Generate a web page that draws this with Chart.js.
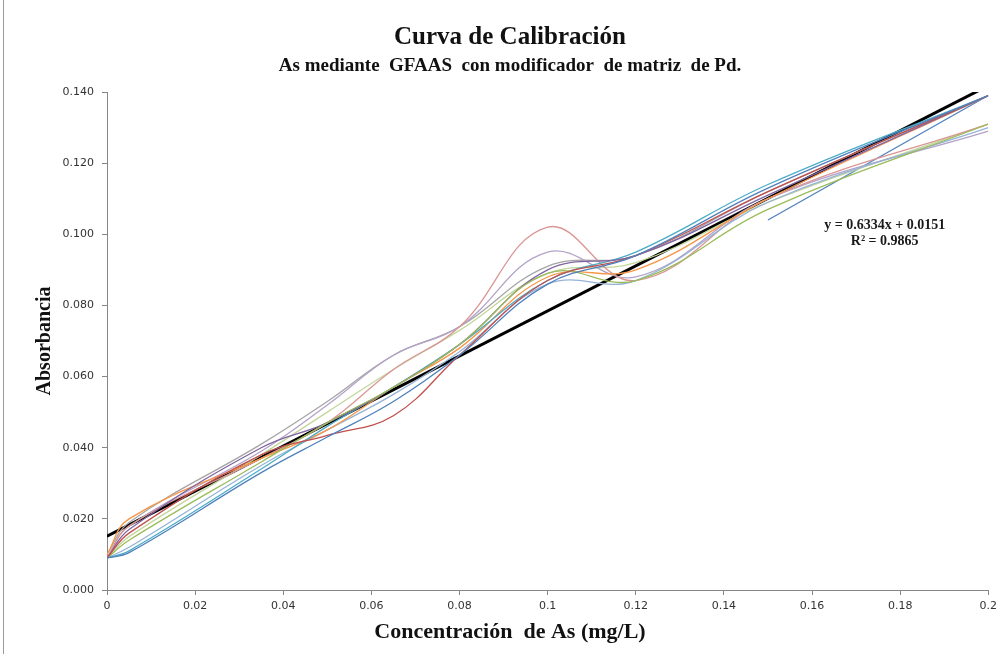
<!DOCTYPE html>
<html>
<head>
<meta charset="utf-8">
<script src="https://cdn.jsdelivr.net/npm/chart.js@4/dist/chart.umd.min.js"></script>
<style>
  html, body { margin: 0; padding: 0; background: #fff; }
  #wrap { width: 1002px; height: 654px; }
</style>
</head>
<body>
<div id="wrap"><canvas id="calChart" width="1002" height="654"></canvas></div>
<script>
// concentraciones (mg/L) comunes a todas las curvas
var conc = [0, 0.005, 0.035, 0.05, 0.065, 0.08, 0.1, 0.12, 0.15, 0.2];

// absorbancias de cada curva
var serie1 = [0.009, 0.0105, 0.033, 0.043, 0.053, 0.066, 0.086, 0.094, 0.113, 0.139];
var serie2 = [0.009, 0.016, 0.038, 0.0435, 0.049, 0.066, 0.087, 0.094, 0.112, 0.139];
var serie3 = [0.009, 0.014, 0.036, 0.047, 0.057, 0.069, 0.089, 0.087, 0.107, 0.131];
var serie4 = [0.009, 0.017, 0.040, 0.047, 0.057, 0.069, 0.090, 0.094, 0.111, 0.139];
var serie5 = [0.009, 0.011, 0.034, 0.046, 0.057, 0.069, 0.087, 0.095, 0.114, 0.139];
var serie6 = [0.010, 0.020, 0.037, 0.045, 0.057, 0.068, 0.088, 0.090, 0.110, 0.139];
var serie7 = [0.009, 0.012, 0.035, 0.045, 0.055, 0.067, 0.086, 0.087, 0.109, 0.130];
var serie8 = [0.009, 0.018, 0.037, 0.047, 0.062, 0.074, 0.102, 0.087, 0.110, 0.131];
var serie9 = [0.009, 0.018, 0.039, 0.052, 0.066, 0.074, 0.095, 0.088, 0.110, 0.129];
var serie10 = [0.009, 0.015, 0.038, 0.050, 0.062, 0.073, 0.089, 0.092, 0.109, 0.131];
var serie11 = [0.010, 0.019, 0.041, 0.053, 0.066, 0.074, 0.091, 0.094, 0.112, 0.139];

// tramo recto suelto
var tramoX = [0.15, 0.2];
var tramoY = [0.104, 0.139];

// linea de tendencia
var pendiente = 0.6334;
var intercepto = 0.0151;
var r2 = 0.9865;
var tendX = [0, 0.2];

var xTicks = [0, 0.02, 0.04, 0.06, 0.08, 0.1, 0.12, 0.14, 0.16, 0.18, 0.2];
var yTicks = [0, 0.02, 0.04, 0.06, 0.08, 0.1, 0.12, 0.14];

var colores = ['#4F81BD', '#C0504D', '#9BBB59', '#8064A2', '#4BACC6', '#F79646',
               '#95B3D7', '#D99694', '#B3A2C7', '#C3D69B', '#A5A5A5'];
var series = [serie1, serie2, serie3, serie4, serie5, serie6, serie7, serie8, serie9, serie10, serie11];

function puntos(xs, ys) {
    return xs.map(function (x, i) { return { x: x, y: ys[i] }; });
}

var datasets = series.map(function (s, i) {
    return {
        label: 'Serie ' + (i + 1),
        data: puntos(conc, s),
        borderColor: colores[i],
        borderWidth: 1.3,
        pointRadius: 0,
        tension: 0.4,
        fill: false
    };
});

datasets.push({
    label: 'Tramo',
    data: puntos(tramoX, tramoY),
    borderColor: '#4F81BD',
    borderWidth: 1.3,
    pointRadius: 0,
    tension: 0
});

datasets.push({
    label: 'Lineal',
    data: tendX.map(function (x) { return { x: x, y: pendiente * x + intercepto }; }),
    borderColor: '#000000',
    borderWidth: 3,
    pointRadius: 0,
    tension: 0
});

var serif = "'Liberation Serif', 'Times New Roman', serif";

// borde izquierdo, titulo del eje x y texto de la ecuacion
var extras = {
    id: 'extras',
    beforeDraw: function (chart) {
        var ctx = chart.ctx;
        ctx.save();
        ctx.fillStyle = '#ffffff';
        ctx.fillRect(0, 0, chart.width, chart.height);
        ctx.strokeStyle = '#9a9a9a';
        ctx.lineWidth = 1;
        ctx.beginPath();
        ctx.moveTo(3.5, 0);
        ctx.lineTo(3.5, chart.height);
        ctx.stroke();
        ctx.restore();
    },
    afterDraw: function (chart) {
        var ctx = chart.ctx;
        ctx.save();
        ctx.fillStyle = '#111';
        ctx.font = 'bold 22px ' + serif;
        ctx.textAlign = 'center';
        ctx.textBaseline = 'middle';
        ctx.fillText('Concentración  de As (mg/L)', 510, 632);
        ctx.restore();
    },
    afterDatasetsDraw: function (chart) {
        var ctx = chart.ctx;
        var xs = chart.scales.x, ys = chart.scales.y;
        var px = xs.getPixelForValue(0.1765);
        var py = ys.getPixelForValue(0.1026);
        ctx.save();
        ctx.fillStyle = '#1a1a1a';
        ctx.font = 'bold 14px ' + serif;
        ctx.textAlign = 'center';
        ctx.textBaseline = 'middle';
        ctx.fillText('y = ' + pendiente + 'x + ' + intercepto, px, py);
        ctx.fillText('R² = ' + r2, px, py + 16);
        ctx.restore();
    }
};

new Chart(document.getElementById('calChart').getContext('2d'), {
    type: 'line',
    data: { datasets: datasets },
    plugins: [extras],
    options: {
        responsive: false,
        animation: false,
        layout: { padding: { left: 30, right: 12, top: 0, bottom: 0 } },
        plugins: {
            legend: { display: false },
            tooltip: { enabled: false },
            title: {
                display: true,
                text: 'Curva de Calibración',
                color: '#111',
                font: { family: serif, size: 25, weight: 'bold' },
                padding: { top: 23, bottom: 1.6 }
            },
            subtitle: {
                display: true,
                text: 'As mediante  GFAAS  con modificador  de matriz  de Pd.',
                color: '#111',
                font: { family: serif, size: 19, weight: 'bold' },
                padding: { top: 0, bottom: 14.6 }
            }
        },
        scales: {
            x: {
                type: 'linear',
                min: 0,
                max: 0.2,
                afterFit: function (s) { s.height = 64; },
                afterBuildTicks: function (s) { s.ticks = xTicks.map(function (v) { return { value: v }; }); },
                border: { color: '#868686', width: 1 },
                grid: { display: true, drawOnChartArea: false, drawTicks: true, tickLength: 5, color: '#868686' },
                ticks: {
                    color: '#333',
                    padding: 5,
                    maxRotation: 0,
                    font: { family: 'DejaVu Sans', size: 11 },
                    callback: function (v) { return String(Number(v.toFixed(2))); }
                },
                title: { display: false }
            },
            y: {
                type: 'linear',
                min: 0,
                max: 0.14,
                afterFit: function (s) { s.width = 77; },
                afterBuildTicks: function (s) { s.ticks = yTicks.map(function (v) { return { value: v }; }); },
                border: { color: '#868686', width: 1 },
                grid: { display: true, drawOnChartArea: false, drawTicks: true, tickLength: 5, color: '#868686' },
                ticks: {
                    color: '#333',
                    padding: 8,
                    font: { family: 'DejaVu Sans', size: 11 },
                    callback: function (v) { return v.toFixed(3); }
                },
                title: {
                    display: true,
                    text: 'Absorbancia',
                    color: '#111',
                    font: { family: serif, size: 20, weight: 'bold' },
                    padding: { top: 3, bottom: 0 }
                }
            }
        }
    }
});
</script>
</body>
</html>
